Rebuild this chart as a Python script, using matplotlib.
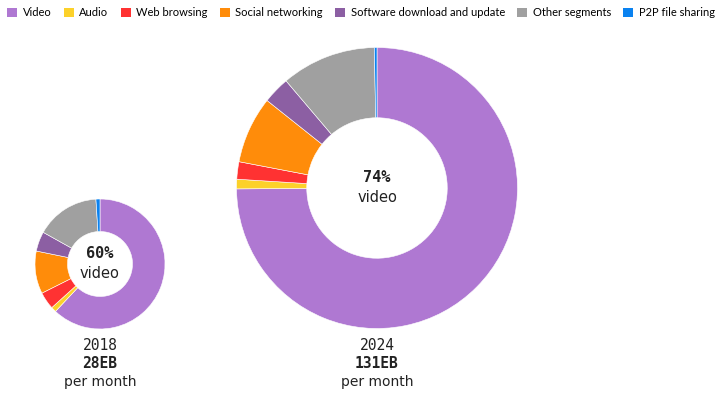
import matplotlib.pyplot as plt
import matplotlib.patches as patches

# data
categories = ["Video", "Audio", "Web browsing", "Social networking",
              "Software download and update", "Other segments", "P2P file sharing"]
colors = ["#AF78D2", "#FCD12A", "#FF3232", "#FF8C0A", "#8C5FA3", "#A0A0A0", "#0A82F0"]
share_2018 = [62.0, 1.3, 4.3, 10.6, 4.9, 15.9, 1.0]
share_2024 = [74.9, 1.1, 2.0, 7.7, 3.1, 10.9, 0.3]
years = ["2018", "2024"]
totals = ["28EB", "131EB"]
video_labels = ["60%", "74%"]

W, H = 728, 398
fig = plt.figure(figsize=(W / 100, H / 100), dpi=100)
ax = fig.add_axes([0, 0, 1, 1])

# pixel layout: (centre x, centre y from top, radius)
donuts = [(100, 264, 65), (377, 188, 140.5)]
txt = "#222222"

for shares, (cx, cy, r), yr, tot, vid in zip([share_2018, share_2024], donuts, years, totals, video_labels):
    ax.pie(shares, colors=colors, center=(cx, H - cy), radius=r,
           startangle=90, counterclock=False,
           wedgeprops=dict(width=r * 0.5, edgecolor="white", linewidth=0.4))
    ax.text(cx, H - cy + 10, vid, ha="center", va="center", fontsize=11,
            fontweight="bold", family="DejaVu Sans Mono", color=txt)
    ax.text(cx, H - cy - 10, "video", ha="center", va="center", fontsize=10.5,
            family="DejaVu Sans", color=txt)
    ax.text(cx, H - 346, yr, ha="center", va="center", fontsize=10.5,
            family="DejaVu Sans Mono", color=txt)
    ax.text(cx, H - 364, tot, ha="center", va="center", fontsize=10.5,
            fontweight="bold", family="DejaVu Sans Mono", color=txt)
    ax.text(cx, H - 382, "per month", ha="center", va="center", fontsize=10,
            family="DejaVu Sans", color=txt)

ax.set_xlim(0, W)
ax.set_ylim(0, H)
ax.set_aspect("equal")
ax.axis("off")

handles = [patches.Patch(facecolor=c, edgecolor="none") for c in colors]
fig.legend(handles, categories, loc="upper left", bbox_to_anchor=(0.0, 1.0),
           ncol=7, frameon=False, handlelength=0.9, handleheight=0.9,
           handletextpad=0.5, columnspacing=1.1, borderaxespad=0.25,
           prop=dict(family="Lato", size=8))

fig.savefig("out.png", dpi=100)
